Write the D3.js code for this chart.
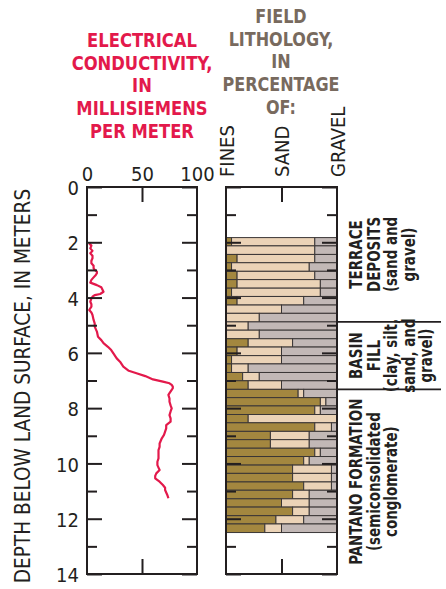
<!DOCTYPE html>
<html><head><meta charset="utf-8">
<script src="https://cdn.jsdelivr.net/npm/d3@7"></script>
<style>
html,body{margin:0;padding:0;background:#fff;}
svg{display:block;}
text{font-family:"Liberation Sans Narrow","Arial Narrow","DejaVu Sans Condensed",sans-serif;}
</style></head>
<body>
<svg id="chart" width="446" height="589"></svg>
<script>
// ---------- DATA ----------
const condTicks = [0, 50, 100];
const depthTicks = [0, 2, 4, 6, 8, 10, 12, 14];
const condDepth = [
2.04, 2.12, 2.22, 2.31, 2.40, 2.49, 2.58, 2.67, 2.76, 2.85,
2.94, 3.00, 3.06, 3.12, 3.18, 3.27, 3.36, 3.46, 3.55, 3.63,
3.71, 3.79, 3.87, 3.91, 3.97, 4.03, 4.15, 4.24, 4.33, 4.45,
4.54, 4.63, 4.81, 4.93, 5.05, 5.23, 5.42, 5.54, 5.65, 5.78,
5.90, 6.02, 6.20, 6.32, 6.50, 6.65, 6.74, 6.84, 6.96, 7.04,
7.10, 7.16, 7.22, 7.28, 7.34, 7.46, 7.52, 7.65, 7.77, 7.90,
8.01, 8.12, 8.25, 8.37, 8.49, 8.61, 8.73, 8.85, 8.97, 9.09,
9.28, 9.40, 9.52, 9.67, 9.82, 9.94, 10.06, 10.15, 10.24, 10.36,
10.45, 10.54, 10.66, 10.78, 10.88, 10.96, 11.05, 11.14, 11.26];
const condValue = [
2, 4, 3, 5, 3, 5, 5, 4, 4, 6,
6, 7, 9, 9, 8, 6, 4, 3, 9, 13,
14, 15, 12, 7, 5, 4, 3, 4, 4, 2,
4, 5, 6, 7, 7, 9, 10, 13, 15, 19,
22, 24, 27, 30, 33, 38, 45, 53, 60, 69,
75, 77, 78, 78, 77, 75, 74, 75, 75, 76,
77, 76, 75, 76, 76, 72, 72, 71, 70, 68,
66, 66, 65, 65, 65, 64, 64, 65, 66, 63,
62, 62, 66, 69, 71, 71, 72, 73, 74];

const lithTop = [1.83, 2.13, 2.44, 2.74, 3.05, 3.35, 3.66, 3.96, 4.27, 4.57,
  4.88, 5.18, 5.49, 5.79, 6.10, 6.40, 6.71, 7.01, 7.32, 7.62,
  7.92, 8.23, 8.53, 8.84, 9.14, 9.45, 9.75, 10.06, 10.36, 10.67,
  10.97, 11.28, 11.58, 11.89, 12.19];
const lithBottom = [2.13, 2.44, 2.74, 3.05, 3.35, 3.66, 3.96, 4.27, 4.57, 4.88,
  5.18, 5.49, 5.79, 6.10, 6.40, 6.71, 7.01, 7.32, 7.62, 7.92,
  8.23, 8.53, 8.84, 9.14, 9.45, 9.75, 10.06, 10.36, 10.67, 10.97,
  11.28, 11.58, 11.89, 12.19, 12.50];
const fines = [5, 0, 10, 5, 10, 10, 5, 10, 0, 0,
  0, 0, 20, 10, 5, 5, 15, 20, 65, 85,
  80, 20, 80, 40, 40, 80, 70, 60, 60, 70,
  60, 50, 60, 45, 35];
const sand = [75, 80, 70, 70, 70, 75, 80, 60, 50, 30,
  20, 30, 40, 40, 45, 15, 15, 30, 5, 5,
  5, 80, 15, 35, 35, 5, 5, 35, 35, 25,
  15, 25, 15, 25, 15];
const gravel = [20, 20, 20, 25, 20, 15, 15, 30, 50, 70,
  80, 70, 40, 50, 50, 80, 70, 50, 30, 10,
  15, 0, 5, 25, 25, 15, 25, 5, 5, 5,
  25, 25, 25, 30, 50];
const lithClasses = ["FINES", "SAND", "GRAVEL"];
const lithClassPos = [0, 50, 100];

const unitTop = [0, 4.88, 7.32];
const unitBottom = [4.88, 7.32, 14];
const unitLines = [
  ["TERRACE", "DEPOSITS", "(sand and", "gravel)"],
  ["BASIN", "FILL", "(clay, silt,", "sand, and", "gravel)"],
  ["PANTANO FORMATION", "(semiconsolidated", "conglomerate)"]
];

const condTitle = ["ELECTRICAL", "CONDUCTIVITY,", "IN", "MILLISIEMENS", "PER METER"];
const lithTitle = ["FIELD", "LITHOLOGY,", "IN", "PERCENTAGE", "OF:"];
const yTitle = "DEPTH BELOW LAND SURFACE, IN METERS";

// ---------- SETUP ----------
const svg = d3.select("#chart");
const INK = "#231f20";
const RED = "#e3194b";
const BROWN = "#786a5e";
const C_FINES = "#a3873f", C_SAND = "#ebd3b7", C_GRAVEL = "#c2b8b6";

const y = d3.scaleLinear().domain([0, 14]).range([187, 574]);
const xc = d3.scaleLinear().domain([0, 100]).range([87, 197]);
const xl = d3.scaleLinear().domain([0, 100]).range([226, 337]);
const allDepths = d3.range(0, 15);
const oddDepths = allDepths.filter(d => d % 2 === 1);

// ---------- TITLES ----------
svg.append("g").attr("transform", "translate(142,0) scale(0.91,1)")
  .selectAll("text").data(condTitle).join("text")
  .attr("x", 0).attr("y", (d, i) => 47 + i * 22.75)
  .attr("text-anchor", "middle").attr("font-size", 20).attr("font-weight", "bold")
  .attr("fill", RED).text(d => d);
svg.append("g").attr("transform", "translate(281,0) scale(0.89,1)")
  .selectAll("text").data(lithTitle).join("text")
  .attr("x", 0).attr("y", (d, i) => 23 + i * 22.75)
  .attr("text-anchor", "middle").attr("font-size", 20).attr("font-weight", "bold")
  .attr("fill", BROWN).text(d => d);

svg.append("text")
  .attr("transform", "translate(30,386) rotate(-90) scale(0.98,1)")
  .attr("text-anchor", "middle").attr("font-size", 21).attr("fill", INK)
  .text(yTitle);

// ---------- LITHOLOGY BARS ----------
const rows = lithTop.map((t, i) => ({t, b: lithBottom[i], f: fines[i], s: sand[i], g: gravel[i]}));
const segs = [];
rows.forEach(r => {
  segs.push({t: r.t, b: r.b, x0: 0, x1: r.f, c: C_FINES});
  segs.push({t: r.t, b: r.b, x0: r.f, x1: r.f + r.s, c: C_SAND});
  segs.push({t: r.t, b: r.b, x0: r.f + r.s, x1: r.f + r.s + r.g, c: C_GRAVEL});
});
svg.append("g").selectAll("rect").data(segs.filter(s => s.x1 > s.x0)).join("rect")
  .attr("x", d => xl(d.x0)).attr("width", d => xl(d.x1) - xl(d.x0))
  .attr("y", d => y(d.t)).attr("height", d => y(d.b) - y(d.t))
  .attr("fill", d => d.c).attr("stroke", "#3a3636").attr("stroke-width", 1);

// ---------- CONDUCTIVITY LINE ----------
const pts = condDepth.map((d, i) => [condValue[i], d]);
svg.append("path").datum(pts)
  .attr("d", d3.line().x(d => xc(d[0])).y(d => y(d[1])))
  .attr("fill", "none").attr("stroke", RED).attr("stroke-width", 2.2)
  .attr("stroke-linejoin", "round");

// ---------- FRAMES & TICKS ----------
function panel(x, g) {
  const [x0, x1] = x.range();
  g.append("g").attr("transform", `translate(${x0},0)`)
    .call(d3.axisLeft(y).tickValues(depthTicks).tickSize(-15).tickFormat(""))
    .call(a => a.select(".domain").remove());
  g.append("g").attr("transform", `translate(${x0},0)`)
    .call(d3.axisLeft(y).tickValues(oddDepths).tickSize(-10).tickFormat(""))
    .call(a => a.select(".domain").remove());
  g.append("g").attr("transform", `translate(${x1},0)`)
    .call(d3.axisRight(y).tickValues(depthTicks).tickSize(-15).tickFormat(""))
    .call(a => a.select(".domain").remove());
  g.append("g").attr("transform", `translate(${x1},0)`)
    .call(d3.axisRight(y).tickValues(oddDepths).tickSize(-10).tickFormat(""))
    .call(a => a.select(".domain").remove());
  g.append("g").attr("transform", `translate(0,${y(0)})`)
    .call(d3.axisTop(x).tickValues([50]).tickSize(-15).tickFormat(""))
    .call(a => a.select(".domain").remove());
  g.append("g").attr("transform", `translate(0,${y(14)})`)
    .call(d3.axisBottom(x).tickValues([50]).tickSize(-15).tickFormat(""))
    .call(a => a.select(".domain").remove());
  g.append("rect").attr("x", x0).attr("y", y(0)).attr("width", x1 - x0).attr("height", y(14) - y(0))
    .attr("fill", "none").attr("stroke", INK).attr("stroke-width", 2);
  g.selectAll(".tick line").attr("stroke", INK).attr("stroke-width", 2);
}
panel(xc, svg.append("g"));
panel(xl, svg.append("g"));

// depth labels
svg.append("g").attr("transform", `translate(${xc(0)},0)`)
  .call(d3.axisLeft(y).tickValues(depthTicks).tickSize(0).tickPadding(8))
  .call(a => a.select(".domain").remove())
  .call(a => a.selectAll("text").attr("font-size", 20).attr("fill", INK)
    .attr("font-family", null).attr("dy", "0.38em"));

// conductivity labels
svg.append("g").attr("transform", `translate(0,181)`)
  .call(d3.axisTop(xc).tickValues(condTicks).tickSize(0).tickPadding(0))
  .call(a => a.select(".domain").remove())
  .call(a => a.selectAll("text").attr("font-size", 20).attr("fill", INK).attr("font-family", null));

// lithology class labels (rotated)
svg.append("g").selectAll("text").data(lithClasses).join("text")
  .attr("transform", (d, i) => `translate(${xl(lithClassPos[i]) + 7.5},177) rotate(-90)`)
  .attr("font-size", 20).attr("fill", INK).text(d => d);

// ---------- UNIT ANNOTATIONS ----------
const ug = svg.append("g");
ug.selectAll("line").data([unitBottom[0], unitBottom[1]]).join("line")
  .attr("x1", xl(100)).attr("x2", 441)
  .attr("y1", d => y(d)).attr("y2", d => y(d))
  .attr("stroke", INK).attr("stroke-width", 1.6);
unitLines.forEach((lines, u) => {
  const cy = (y(unitTop[u]) + y(unitBottom[u])) / 2;
  ug.append("g").selectAll("text").data(lines).join("text")
    .attr("transform", (d, i) => `translate(${362 + i * 17.5},${cy}) rotate(-90) scale(0.83,1)`)
    .attr("text-anchor", "middle").attr("font-size", 18)
    .attr("font-weight", "bold").attr("fill", INK).text(d => d);
});
</script>
</body></html>
